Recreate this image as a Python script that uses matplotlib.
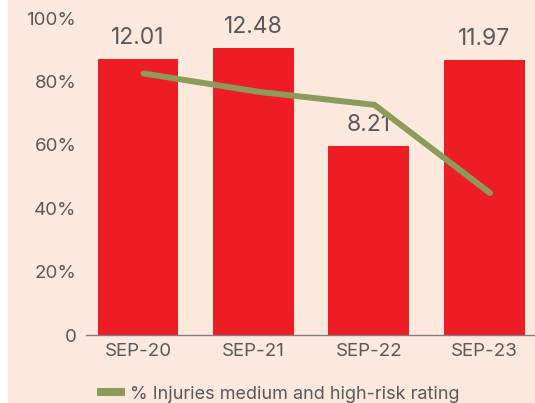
import matplotlib
matplotlib.use("Agg")
import matplotlib.pyplot as plt
import matplotlib.patches as mpatches
from matplotlib.lines import Line2D
import numpy as np

# ── Data ──────────────────────────────────────────────────────────────────────
periods      = ["SEP-20", "SEP-21", "SEP-22", "SEP-23"]
rate_values  = [12.01, 12.48, 8.21, 11.97]      # bars (hidden secondary scale)
pct_medhigh  = [82.5, 76.7, 72.6, 44.8]         # line, % of injuries
pct_ticks    = [0, 20, 40, 60, 80, 100]
pct_labels   = ["0", "20%", "40%", "60%", "80%", "100%"]
legend_label = "% Injuries medium and high-risk rating"

BG    = "#fde8de"
RED   = "#ee1c25"
GREEN = "#8b9c5a"
GREY  = "#595959"
plt.rcParams["font.family"] = ["Inter", "DejaVu Sans"]

# ── Plot ──────────────────────────────────────────────────────────────────────
fig = plt.figure(figsize=(5.35, 4.03), dpi=100)
fig.patch.set_facecolor("white")
fig.patches.append(mpatches.Rectangle((0.015, 0), 0.985, 1, transform=fig.transFigure,
                                      facecolor=BG, edgecolor="none", zorder=0))

ax = fig.add_axes([0.1607, 0.1687, 0.8393, 0.7866])
ax.set_facecolor("none")
ax_bar = ax.twinx()
ax.set_zorder(2)
ax_bar.set_zorder(1)

x = np.arange(len(periods))

bars = ax_bar.bar(x, rate_values, width=0.70, color=RED, zorder=2)
ax_bar.set_ylim(0, 13.8)
ax_bar.axis("off")
for b, v in zip(bars, rate_values):
    ax_bar.annotate(f"{v:.2f}", (b.get_x() + b.get_width() / 2, v),
                    xytext=(0, 15.5), textcoords="offset points",
                    ha="center", va="center", fontsize=16.5, color=GREY)

ax.plot(x + 0.05, pct_medhigh, color=GREEN, lw=4.3, solid_capstyle="round",
        solid_joinstyle="miter", zorder=3)

ax.set_xlim(-0.45, 3.44)
ax_bar.set_xlim(-0.45, 3.44)
ax.set_ylim(0, 100)
ax.set_yticks(pct_ticks)
ax.set_yticklabels(pct_labels)
ax.set_xticks(x)
ax.set_xticklabels(periods)
ax.tick_params(axis="both", length=0, labelsize=13.5, colors=GREY)
ax.tick_params(axis="y", pad=7)
ax.tick_params(axis="x", pad=6)
for s in ["top", "right", "left"]:
    ax.spines[s].set_visible(False)
ax.spines["bottom"].set_color("#808080")
ax.spines["bottom"].set_linewidth(1.0)

handle = Line2D([], [], color=GREEN, lw=5.8, solid_capstyle="butt")
fig.legend([handle], [legend_label], loc="center", bbox_to_anchor=(0.52, 0.022),
           frameon=False, fontsize=13, handlelength=1.55, handletextpad=0.3,
           labelcolor=GREY)

fig.savefig("out.png", dpi=100, facecolor=fig.get_facecolor())
